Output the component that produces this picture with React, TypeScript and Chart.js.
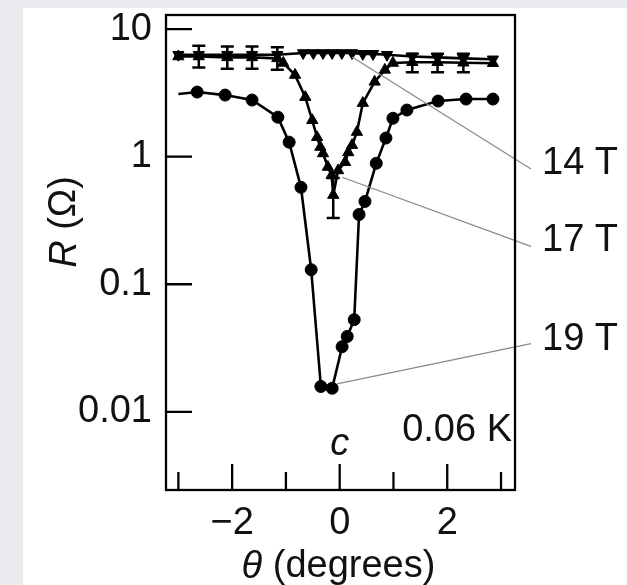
import React, { useEffect, useRef } from "react";
import { Chart, registerables } from "chart.js";

Chart.register(...registerables);

const FONT = '"Liberation Sans", Arial, Helvetica, sans-serif';
const FS = 38;

// 14 T (inverted triangles)
const theta14 = [-3.0, -2.62, -2.09, -1.63, -1.16, -0.68, -0.49, -0.31, -0.14, 0.04, 0.23, 0.43, 0.62, 0.88, 1.35, 1.82, 2.3, 2.85];
const r14 = [6.3, 6.3, 6.3, 6.3, 6.3, 6.5, 6.5, 6.5, 6.5, 6.5, 6.5, 6.4, 6.4, 6.3, 6.1, 6.0, 5.9, 5.8];

// 17 T (triangles, with error bars)
const theta17 = [-3.0, -2.62, -2.09, -1.63, -1.16, -1.05, -0.83, -0.64, -0.51, -0.42, -0.36, -0.31, -0.22, -0.15, -0.12, -0.03, 0.1, 0.16, 0.23, 0.32, 0.43, 0.65, 0.84, 0.99, 1.35, 1.82, 2.3, 2.85];
const r17 = [6.1, 6.1, 6.0, 6.0, 5.9, 5.43, 4.37, 2.93, 1.93, 1.42, 1.19, 1.06, 0.83, 0.715, 0.5, 0.78, 0.905, 1.08, 1.23, 1.56, 2.63, 3.86, 4.79, 5.43, 5.5, 5.5, 5.45, 5.4];
const err17Lo = [null, 5.0, 4.9, 4.9, 4.8, null, null, null, null, null, null, null, null, null, 0.33, null, null, null, null, null, null, null, null, null, 4.6, 4.6, 4.6, null];
const err17Hi = [null, 7.4, 7.3, 7.3, 7.2, null, null, null, null, null, null, null, null, null, 0.68, null, null, null, null, null, null, null, null, null, 6.4, 6.4, 6.4, null];

// 19 T (circles)
const theta19 = [-3.0, -2.65, -2.13, -1.63, -1.15, -0.94, -0.72, -0.53, -0.35, -0.14, 0.045, 0.14, 0.27, 0.36, 0.47, 0.68, 0.86, 0.99, 1.25, 1.83, 2.35, 2.85];
const r19 = [3.1, 3.21, 3.04, 2.78, 2.04, 1.3, 0.575, 0.13, 0.0158, 0.0153, 0.0324, 0.039, 0.0528, 0.352, 0.446, 0.887, 1.4, 2.0, 2.32, 2.73, 2.83, 2.83];

const xTicks = [-3, -2, -1, 0, 1, 2, 3];
const xTickLabels = ["", "\u22122", "", "0", "", "2", ""];
const xMajor = [-2, 0, 2];
const yTicks = [0.01, 0.1, 1, 10];
const yTickLabels = ["0.01", "0.1", "1", "10"];

const fieldLabels = ["14 T", "17 T", "19 T"];
const leaderStartTheta = [0.23, 0.045, -0.05];
const leaderStartR = [6.05, 0.69, 0.0166];
const leaderEndR = [0.8, 0.198, 0.0342];
const fieldLabelR = [0.89, 0.22, 0.0367];
const tempLabel = "0.06 K";
const axisMarker = "c";

const toXY = (xs: number[], ys: number[]) => xs.map((x, i) => ({ x, y: ys[i] }));

const decor = {
  id: "decor",
  beforeDraw(chart: any) {
    const { ctx, width, height } = chart;
    ctx.save();
    ctx.fillStyle = "#e9ebee";
    ctx.fillRect(0, 0, width, height);
    ctx.fillStyle = "#ffffff";
    ctx.fillRect(23, 8, width - 23, height - 8);
    ctx.restore();
  },
  afterDatasetsDraw(chart: any) {
    const { ctx } = chart;
    const xs = chart.scales.x;
    const ys = chart.scales.y;
    ctx.save();
    ctx.strokeStyle = "#000";
    ctx.lineWidth = 2.5;
    theta17.forEach((t, i) => {
      const lo = err17Lo[i];
      const hi = err17Hi[i];
      if (lo == null || hi == null) return;
      const px = xs.getPixelForValue(t);
      const p1 = ys.getPixelForValue(lo);
      const p2 = ys.getPixelForValue(hi);
      ctx.beginPath();
      ctx.moveTo(px, p1);
      ctx.lineTo(px, p2);
      ctx.moveTo(px - 6.5, p1);
      ctx.lineTo(px + 6.5, p1);
      ctx.moveTo(px - 6.5, p2);
      ctx.lineTo(px + 6.5, p2);
      ctx.stroke();
    });
    ctx.restore();
  },
  afterDraw(chart: any) {
    const { ctx, chartArea: a } = chart;
    const xs = chart.scales.x;
    const ys = chart.scales.y;
    ctx.save();
    // leader lines
    ctx.strokeStyle = "#8a8a8a";
    ctx.lineWidth = 1.3;
    fieldLabels.forEach((_, i) => {
      ctx.beginPath();
      ctx.moveTo(xs.getPixelForValue(leaderStartTheta[i]), ys.getPixelForValue(leaderStartR[i]));
      ctx.lineTo(a.right + 16, ys.getPixelForValue(leaderEndR[i]));
      ctx.stroke();
    });
    // frame
    ctx.strokeStyle = "#000";
    ctx.lineWidth = 2.3;
    ctx.strokeRect(a.left, a.top, a.right - a.left, a.bottom - a.top);
    // ticks
    ctx.beginPath();
    xTicks.forEach((t) => {
      const px = xs.getPixelForValue(t);
      const len = xMajor.includes(t) ? 26 : 18;
      ctx.moveTo(px, a.bottom);
      ctx.lineTo(px, a.bottom - len);
    });
    yTicks.forEach((t) => {
      const py = ys.getPixelForValue(t);
      ctx.moveTo(a.left, py);
      ctx.lineTo(a.left + 26, py);
    });
    ctx.stroke();
    // texts
    ctx.fillStyle = "#111";
    ctx.textBaseline = "middle";
    ctx.font = `${FS}px ${FONT}`;
    ctx.textAlign = "left";
    fieldLabels.forEach((lab, i) => {
      ctx.fillText(lab, a.right + 27, ys.getPixelForValue(fieldLabelR[i]));
    });
    ctx.textAlign = "right";
    ctx.fillText(tempLabel, a.right - 3, a.bottom - 59);
    ctx.textAlign = "center";
    ctx.font = `italic ${FS}px ${FONT}`;
    ctx.fillText(axisMarker, xs.getPixelForValue(0), a.bottom - 46);

    const drawMixed = (parts: [string, boolean][], cx: number, cy: number) => {
      let total = 0;
      const ws = parts.map(([s, it]) => {
        ctx.font = `${it ? "italic " : ""}${FS}px ${FONT}`;
        const w = ctx.measureText(s).width;
        total += w;
        return w;
      });
      let x = cx - total / 2;
      ctx.textAlign = "left";
      parts.forEach(([s, it], i) => {
        ctx.font = `${it ? "italic " : ""}${FS}px ${FONT}`;
        ctx.fillText(s, x, cy);
        x += ws[i];
      });
    };
    drawMixed([["\u03b8", true], [" (degrees)", false]], (a.left + a.right) / 2 - 2, a.bottom + 77);
    ctx.save();
    ctx.translate(65, 222);
    ctx.rotate(-Math.PI / 2);
    drawMixed([["R", true], [" (\u03a9)", false]], 0, 0);
    ctx.restore();
    ctx.restore();
  },
};

export default function App() {
  const ref = useRef<HTMLCanvasElement | null>(null);
  useEffect(() => {
    if (!ref.current) return;
    const chart = new Chart(ref.current, {
      type: "scatter",
      data: {
        datasets: [
          {
            label: "14 T",
            data: toXY(theta14, r14),
            showLine: true,
            borderColor: "#000",
            backgroundColor: "#000",
            borderWidth: 2.6,
            pointStyle: "triangle",
            rotation: 180,
            pointRadius: 6.5,
            pointBorderWidth: 1,
          },
          {
            label: "17 T",
            data: toXY(theta17, r17),
            showLine: true,
            borderColor: "#000",
            backgroundColor: "#000",
            borderWidth: 2.6,
            pointStyle: "triangle",
            pointRadius: 6.5,
            pointBorderWidth: 1,
          },
          {
            label: "19 T",
            data: toXY(theta19, r19),
            showLine: true,
            borderColor: "#000",
            backgroundColor: "#000",
            borderWidth: 2.6,
            pointStyle: "circle",
            pointRadius: (c: any) => (c.dataIndex === 0 ? 0 : 6),
            pointBorderWidth: 1,
          },
        ],
      },
      options: {
        animation: false,
        responsive: false,
        events: [],
        layout: { padding: { top: 15, right: 112, bottom: 0, left: 0 } },
        plugins: { legend: { display: false }, tooltip: { enabled: false } },
        scales: {
          x: {
            type: "linear",
            min: -3.23,
            max: 3.26,
            grid: { display: false, drawTicks: false },
            border: { display: false },
            afterBuildTicks: (s: any) => {
              s.ticks = xTicks.map((v) => ({ value: v }));
            },
            afterFit: (s: any) => {
              s.height = 95;
              s.paddingLeft = 0;
              s.paddingRight = 0;
            },
            ticks: {
              autoSkip: false,
              maxRotation: 0,
              padding: 11,
              color: "#111",
              font: { family: FONT, size: FS },
              callback: (v: any) => {
                const i = xTicks.indexOf(Number(v));
                return i >= 0 ? xTickLabels[i] : "";
              },
            },
          },
          y: {
            type: "logarithmic",
            min: 0.00244,
            max: 12.9,
            grid: { display: false, drawTicks: false },
            border: { display: false },
            afterBuildTicks: (s: any) => {
              s.ticks = yTicks.map((v) => ({ value: v }));
            },
            afterFit: (s: any) => {
              s.width = 166;
              s.paddingTop = 0;
              s.paddingBottom = 0;
            },
            ticks: {
              autoSkip: false,
              padding: 14,
              color: "#111",
              font: { family: FONT, size: FS },
              callback: (v: any) => {
                const i = yTicks.findIndex((t) => Math.abs(t - Number(v)) / t < 1e-6);
                return i >= 0 ? yTickLabels[i] : "";
              },
            },
          },
        },
      },
      plugins: [decor],
    });
    return () => chart.destroy();
  }, []);
  return (
    <div style={{ position: "fixed", left: 0, top: 0, width: 627, height: 585 }}>
      <canvas ref={ref} width={627} height={585} style={{ display: "block" }} />
    </div>
  );
}
